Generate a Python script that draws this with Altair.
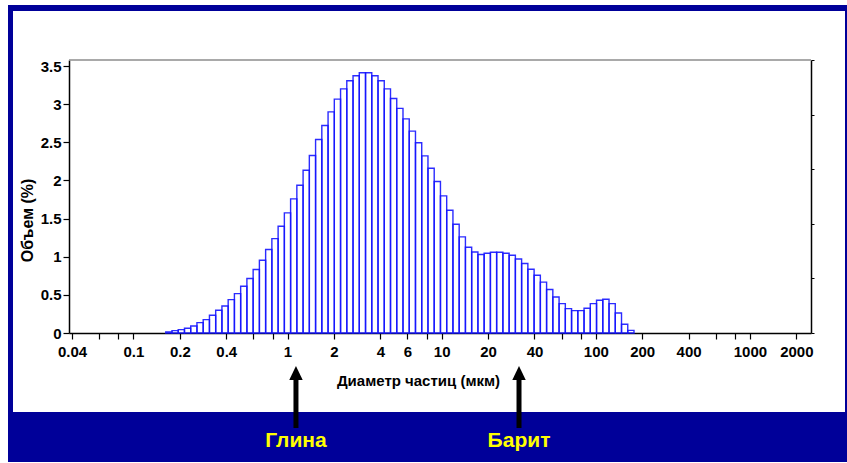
import json

import altair as alt
import pandas as pd

# Volume fraction (%) per size channel. Channels are the geometric grid of
# 116 channels between 0.04 and 2000 µm; the first populated one is #15.
FIRST_CHANNEL = 15
N_CHANNELS = 116
GRID_MIN, GRID_MAX = 0.04, 2000.0

volume = [
    0.014, 0.031, 0.044, 0.062, 0.092, 0.136, 0.175, 0.232, 0.298, 0.355,
    0.438, 0.517, 0.613, 0.714, 0.832, 0.954, 1.094, 1.238, 1.400, 1.575,
    1.759, 1.938, 2.135, 2.328, 2.538, 2.722, 2.900, 3.067, 3.202, 3.307,
    3.373, 3.412, 3.412, 3.373, 3.307, 3.202, 3.076, 2.945, 2.808, 2.647,
    2.494, 2.323, 2.161, 1.987, 1.798, 1.610, 1.427, 1.260, 1.125, 1.063,
    1.029, 1.046, 1.059, 1.059, 1.046, 1.020, 0.971, 0.911, 0.836, 0.757,
    0.667, 0.570, 0.472, 0.385, 0.320, 0.294, 0.294, 0.324, 0.385, 0.429,
    0.442, 0.385, 0.262, 0.114, 0.035,
]

ratio = GRID_MAX / GRID_MIN
lower_edge = [GRID_MIN * ratio ** ((FIRST_CHANNEL + i) / N_CHANNELS) for i in range(len(volume))]
upper_edge = [GRID_MIN * ratio ** ((FIRST_CHANNEL + i + 1) / N_CHANNELS) for i in range(len(volume))]

x_ticks = [0.04, 0.06, 0.08, 0.1, 0.2, 0.4, 0.6, 0.8, 1, 2, 4, 6, 8, 10, 20, 40,
           60, 80, 100, 200, 400, 600, 800, 1000, 2000]
x_labelled = [0.04, 0.1, 0.2, 0.4, 1, 2, 4, 6, 10, 20, 40, 100, 200, 400, 1000, 2000]
y_ticks = [0, 0.5, 1, 1.5, 2, 2.5, 3, 3.5]
right_ticks = [0, 20, 40, 60, 80, 100]

marker_names = ["Глина", "Барит"]
marker_sizes = [1.134, 31.75]

NAVY = "#000099"
BAR_BLUE = "#1414ff"
FONT = "Liberation Sans Narrow, Arial Narrow, Liberation Sans, Arial"
W, H = 742, 273

bins = pd.DataFrame({"lo": lower_edge, "hi": upper_edge, "v": volume})
markers = pd.DataFrame({"name": marker_names, "d": marker_sizes})
one = pd.DataFrame({"k": [0]})

x_scale = alt.Scale(type="log", domain=[0.0382, 2490], nice=False)
y_scale = alt.Scale(domain=[0, 3.58], nice=False, zero=True)

label_expr = (
    f"indexof({json.dumps(x_labelled)}, datum.value) >= 0 "
    "? format(datum.value, '~g') : ''"
)

x_axis = alt.Axis(
    values=x_ticks, labelExpr=label_expr, grid=False,
    domainColor="black", domainWidth=1.5, tickColor="black", tickWidth=1.2,
    tickSize=6, labelPadding=5, labelFont=FONT, labelFontSize=15,
    labelFontWeight="bold", labelColor="black", labelOverlap=False,
    labelFlush=False, title="Диаметр частиц (мкм)", titleFont=FONT,
    titleFontSize=15, titleFontWeight="bold", titleColor="black",
    titleX=349, titleY=47, titleBaseline="middle", titleAlign="center",
)
y_axis = alt.Axis(
    values=y_ticks, format="~g", grid=False, domainColor="black",
    domainWidth=1.5, tickColor="black", tickWidth=1.2, tickSize=6,
    labelPadding=2, labelFont=FONT, labelFontSize=15, labelFontWeight="bold",
    labelColor="black", title="Объем (%)", titleFont=FONT, titleFontSize=16,
    titleFontWeight="bold", titleColor="black", titleAngle=270,
    titleX=-42, titleY=160, titleBaseline="middle", titleAlign="center",
)


def xenc(field):
    return alt.X(field, scale=x_scale, axis=x_axis)


def band(x0, x1, y0, y1):
    return alt.Chart(one).mark_rect(color=NAVY).encode(
        x=alt.value(x0), x2=alt.value(x1), y=alt.value(y0), y2=alt.value(y1)
    )


# navy slide frame around the plot
frame = [
    band(-61, 778, -55, -49),
    band(-61, -56, -55, 402),
    band(776, 778, -55, 402),
    band(-61, 778, 352, 402),
]

top_edge = alt.Chart(one).mark_rule(color="#8c8c8c", strokeWidth=1.5).encode(
    x=alt.value(0), x2=alt.value(W), y=alt.value(0)
)

bars = alt.Chart(bins).mark_bar(
    fill="transparent", stroke=BAR_BLUE, strokeWidth=1.4, strokeOpacity=0.9
).encode(
    x=xenc("lo:Q"),
    x2="hi:Q",
    y=alt.Y("v:Q", scale=y_scale, axis=y_axis),
    y2=alt.datum(0),
)

right_axis = alt.Chart(pd.DataFrame({"cum": [0, 100]})).mark_point(opacity=0).encode(
    y=alt.Y(
        "cum:Q",
        scale=alt.Scale(domain=[0, 100], nice=False),
        axis=alt.Axis(orient="right", values=right_ticks, labels=False,
                      tickSize=3, tickColor="black", domainColor="black",
                      domainWidth=1.5, grid=False, title=None),
    )
)

shaft = alt.Chart(markers).mark_rule(color="black", strokeWidth=5).encode(
    x=xenc("d:Q"), y=alt.value(318), y2=alt.value(368)
)
head = alt.Chart(markers).mark_point(
    shape="M0,-1L0.95,1L-0.95,1Z", filled=True, color="black", opacity=1, size=200
).encode(x=xenc("d:Q"), y=alt.value(313))
names = alt.Chart(markers).mark_text(
    color="#ffff00", font=FONT, fontSize=21, fontWeight="bold", baseline="middle"
).encode(x=xenc("d:Q"), y=alt.value(381), text="name:N")

chart = alt.layer(
    *frame, top_edge, bars, right_axis, shaft, head, names
).resolve_scale(y="independent").properties(
    width=W, height=H,
    padding={"left": 69, "top": 60, "right": 36, "bottom": 130},
    autosize=alt.AutoSizeParams(type="none"),
    background="white",
).configure_view(stroke=None)

chart.save("out.html", embed_options={"renderer": "svg", "actions": False})
